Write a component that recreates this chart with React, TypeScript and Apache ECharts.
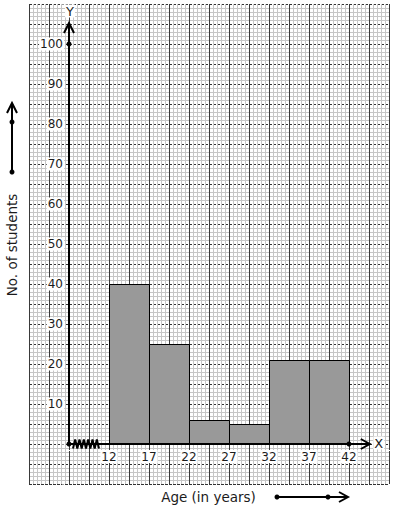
import React, { useEffect, useRef } from "react";
import * as echarts from "echarts";

// ---- data ----
const classStart = [12, 17, 22, 27, 32, 37];
const classEnd = [17, 22, 27, 32, 37, 42];
const students = [40, 25, 6, 5, 21, 21];
const xTickLabels = [12, 17, 22, 27, 32, 37, 42];
const yTickLabels = [10, 20, 30, 40, 50, 60, 70, 80, 90, 100];
const xTitle = "Age (in years)";
const yTitle = "No. of students";

// axis geometry in data units
const yAxisAt = 7; // age value where the (broken) y-axis is drawn
const yArrowTop = 105.25;
const xArrowEnd = 44.6;
const breakFrom = 7.5;
const breakTo = 10.75;
const yMin = -10;
const yMax = 110;
const gridHeight = 480;
const xAxisOffset = -((0 - yMin) / (yMax - yMin)) * gridHeight; // raise the x labels to y = 0

export default function App() {
  const ref = useRef<HTMLDivElement>(null);
  useEffect(() => {
    const chart = echarts.init(ref.current!, null, { renderer: "svg" });
    const font = "DejaVu Sans";
    const ink = "#1c1c1c";
    const option: any = {
      animation: false,
      backgroundColor: "#ffffff",
      grid: [
        { left: 29, top: 4, width: 360, height: gridHeight },
        { left: 69, top: 4, width: 320, height: gridHeight },
      ],
      xAxis: [
        {
          gridIndex: 0,
          type: "value",
          min: 2,
          max: 47,
          interval: 2.5,
          axisLine: { show: false },
          axisTick: { show: false },
          axisLabel: { show: false },
          splitLine: { show: true, lineStyle: { color: "#3a3a3a", width: 1 } },
          minorTick: { show: false, splitNumber: 5 },
          minorSplitLine: { show: true, lineStyle: { color: "#c6c6c6", width: 1 } },
        },
        {
          gridIndex: 1,
          type: "value",
          min: 7,
          max: 47,
          interval: 5,
          position: "bottom",
          offset: xAxisOffset,
          axisLine: { show: false, onZero: false },
          axisTick: { show: false },
          splitLine: { show: false },
          axisLabel: {
            margin: 6,
            color: ink,
            fontFamily: font,
            fontSize: 12,
            backgroundColor: "#ffffff",
            padding: [1, 1, 0, 1],
            formatter: (v: number) => (xTickLabels.includes(v) ? String(v) : ""),
          },
        },
      ],
      yAxis: [
        {
          gridIndex: 0,
          type: "value",
          min: yMin,
          max: yMax,
          interval: 5,
          axisLine: { show: false },
          axisTick: { show: false },
          axisLabel: { show: false },
          splitLine: { show: true, lineStyle: { color: "#333333", width: 1, type: [3, 1] } },
          minorTick: { show: false, splitNumber: 5 },
          minorSplitLine: { show: true, lineStyle: { color: "#c6c6c6", width: 1 } },
        },
        {
          gridIndex: 1,
          type: "value",
          min: yMin,
          max: yMax,
          interval: 10,
          axisLine: { show: false, onZero: false },
          axisTick: { show: false },
          splitLine: { show: false },
          axisLabel: {
            margin: 5,
            color: ink,
            fontFamily: font,
            fontSize: 12,
            backgroundColor: "#ffffff",
            padding: [1, 1, 0, 1],
            formatter: (v: number) => (yTickLabels.includes(v) ? String(v) : ""),
          },
        },
      ],
      series: [
        {
          type: "custom",
          xAxisIndex: 1,
          yAxisIndex: 1,
          data: classStart.map((s, i) => [s, classEnd[i], students[i]]),
          encode: { x: [0, 1], y: 2 },
          z: 5,
          renderItem: (_p: any, api: any) => {
            const a = api.coord([api.value(0), api.value(2)]);
            const b = api.coord([api.value(1), 0]);
            const x0 = Math.round(a[0]) + 0.5;
            const x1 = Math.round(b[0]) + 0.5;
            const y0 = Math.round(a[1]) + 0.5;
            const y1 = Math.round(b[1]);
            return {
              type: "rect",
              shape: { x: x0, y: y0, width: x1 - x0, height: y1 - y0 },
              style: { fill: "#999999", stroke: "#000000", lineWidth: 1 },
            };
          },
        },
      ],
    };
    chart.setOption(option);

    const px = (x: number, y: number) =>
      chart.convertToPixel({ gridIndex: 1 } as any, [x, y]) as number[];
    const O = px(yAxisAt, 0);
    const T = px(yAxisAt, yArrowTop);
    const E = px(xArrowEnd, 0);
    const B0 = px(breakFrom, 0);
    const B1 = px(breakTo, 0);
    const D100 = px(yAxisAt, 100);
    const D42 = px(classEnd[classEnd.length - 1], 0);

    const zig: number[][] = [];
    const teeth = 12;
    for (let i = 0; i <= teeth; i++) {
      const x = B0[0] + ((B1[0] - B0[0]) * i) / teeth;
      zig.push([x, O[1] + (i % 2 === 0 ? 4.5 : -4.5)]);
    }

    const line = (x1: number, y1: number, x2: number, y2: number) => ({
      type: "line",
      z: 20,
      shape: { x1, y1, x2, y2 },
      style: { stroke: "#000", lineWidth: 2 },
    });
    const poly = (points: number[][]) => ({
      type: "polyline",
      z: 20,
      shape: { points },
      style: { stroke: "#000", lineWidth: 2, fill: null },
    });
    const dot = (x: number, y: number) => ({
      type: "circle",
      z: 21,
      shape: { cx: x, cy: y, r: 2.5 },
      style: { fill: "#000" },
    });
    const txt = (x: number, y: number, text: string, size: number, extra: any = {}) => ({
      type: "text",
      z: 22,
      x,
      y,
      ...extra,
      style: {
        text,
        fill: ink,
        font: `${size}px "${font}"`,
        align: "center",
        verticalAlign: "middle",
        ...(extra.style || {}),
      },
    });

    const graphic: any[] = [
      // y axis
      line(O[0], O[1], T[0], T[1]),
      poly([[T[0] - 5, T[1] + 10], [T[0], T[1]], [T[0] + 5, T[1] + 10]]),
      // x axis
      line(O[0], O[1], E[0], E[1]),
      poly([[E[0] - 9, E[1] - 5], [E[0], E[1]], [E[0] - 9, E[1] + 5]]),
      // axis break
      poly(zig),
      dot(O[0], O[1]),
      dot(D100[0], D100[1]),
      dot(D42[0], D42[1]),
      txt(T[0] + 1, T[1] - 12, "Y", 13, { style: { backgroundColor: "#fff", padding: [0, 1] } }),
      txt(E[0] + 9, E[1] - 1, "X", 13, { style: { backgroundColor: "#fff", padding: [0, 1] } }),
      // left indicator arrow
      line(12, 172, 12, 104),
      poly([[7, 113], [12, 103], [17, 113]]),
      dot(12, 172),
      dot(12, 122),
      txt(12, 245, yTitle, 13.5, { rotation: Math.PI / 2 }),
      // bottom indicator arrow
      txt(208.5, 497, xTitle, 13.5),
      line(277, 497, 347, 497),
      poly([[339, 492], [348, 497], [339, 502]]),
      dot(277, 497),
      dot(328, 497),
    ];
    chart.setOption({ graphic });

    return () => chart.dispose();
  }, []);

  return (
    <div
      ref={ref}
      style={{ position: "absolute", left: 0, top: 0, width: 394, height: 510 }}
    />
  );
}
